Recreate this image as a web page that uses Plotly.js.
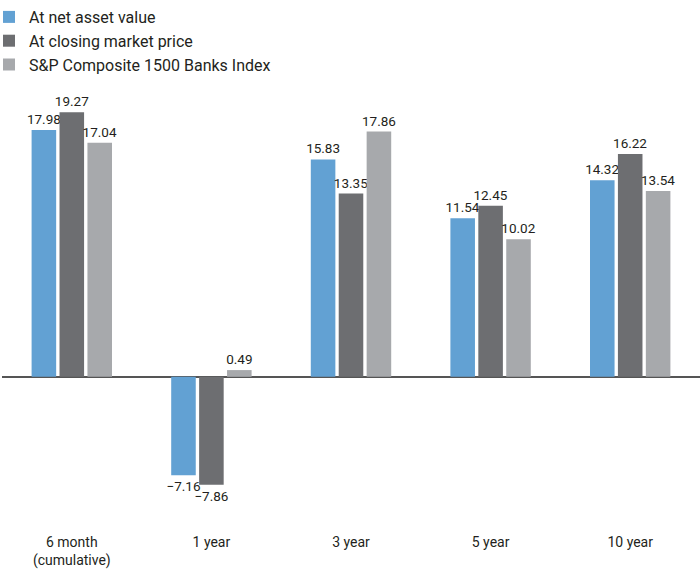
<!DOCTYPE html>
<html><head><meta charset="utf-8">
<script src="https://cdn.plot.ly/plotly-3.0.1.min.js"></script>
<style>html,body{margin:0;padding:0;background:#fff}#chart{width:700px;height:581px}</style>
</head><body><div id="chart"></div>
<script>
const categories = ["6 month<br>(cumulative)", "1 year", "3 year", "5 year", "10 year"];
const seriesNames = ["At net asset value", "At closing market price", "S&P Composite 1500 Banks Index"];
const navValues = [17.98, -7.16, 15.83, 11.54, 14.32];
const marketValues = [19.27, -7.86, 13.35, 12.45, 16.22];
const indexValues = [17.04, 0.49, 17.86, 10.02, 13.54];
const colors = ["#62a1d3", "#6d6e71", "#a7a9ac"];
const font = "Roboto, 'Open Sans', sans-serif";

const allValues = [navValues, marketValues, indexValues];
const traces = allValues.map((vals, i) => ({
  type: "bar",
  name: seriesNames[i],
  x: categories,
  y: vals,
  marker: {color: colors[i], line: {width: 0}},
  text: vals.map(v => v < 0 ? "\u2212" + Math.abs(v).toFixed(2) : v.toFixed(2)),
  textposition: "outside",
  constraintext: "none",
  cliponaxis: false,
  textfont: {family: font, size: 13.5, color: "#231f20"},
  hoverinfo: "none"
}));

const layout = {
  width: 700, height: 581,
  margin: {l: 2, r: 0, t: 61, b: 60, autoexpand: false},
  barmode: "group",
  bargap: 0.4,
  bargroupgap: 0.12,
  paper_bgcolor: "#fff",
  plot_bgcolor: "#fff",
  font: {family: font, size: 14, color: "#231f20"},
  showlegend: true,
  legend: {
    x: 0, y: 1.022, xref: "container", yref: "container", xanchor: "left", yanchor: "top",
    indentation: -11,
    font: {family: font, size: 16, color: "#231f20"},
    bgcolor: "rgba(0,0,0,0)", traceorder: "normal", itemclick: false
  },
  xaxis: {
    showgrid: false, showline: false, zeroline: false, ticks: "",
    tickfont: {family: font, size: 14, color: "#231f20"},
    ticklabelstandoff: 11,
    fixedrange: true
  },
  yaxis: {
    range: [-10.5, 23],
    showgrid: false, showline: false, showticklabels: false, ticks: "",
    zeroline: true, zerolinecolor: "#555", zerolinewidth: 1.5,
    fixedrange: true
  }
};
Plotly.newPlot("chart", traces, layout, {displayModeBar: false, staticPlot: true});
</script></body></html>
